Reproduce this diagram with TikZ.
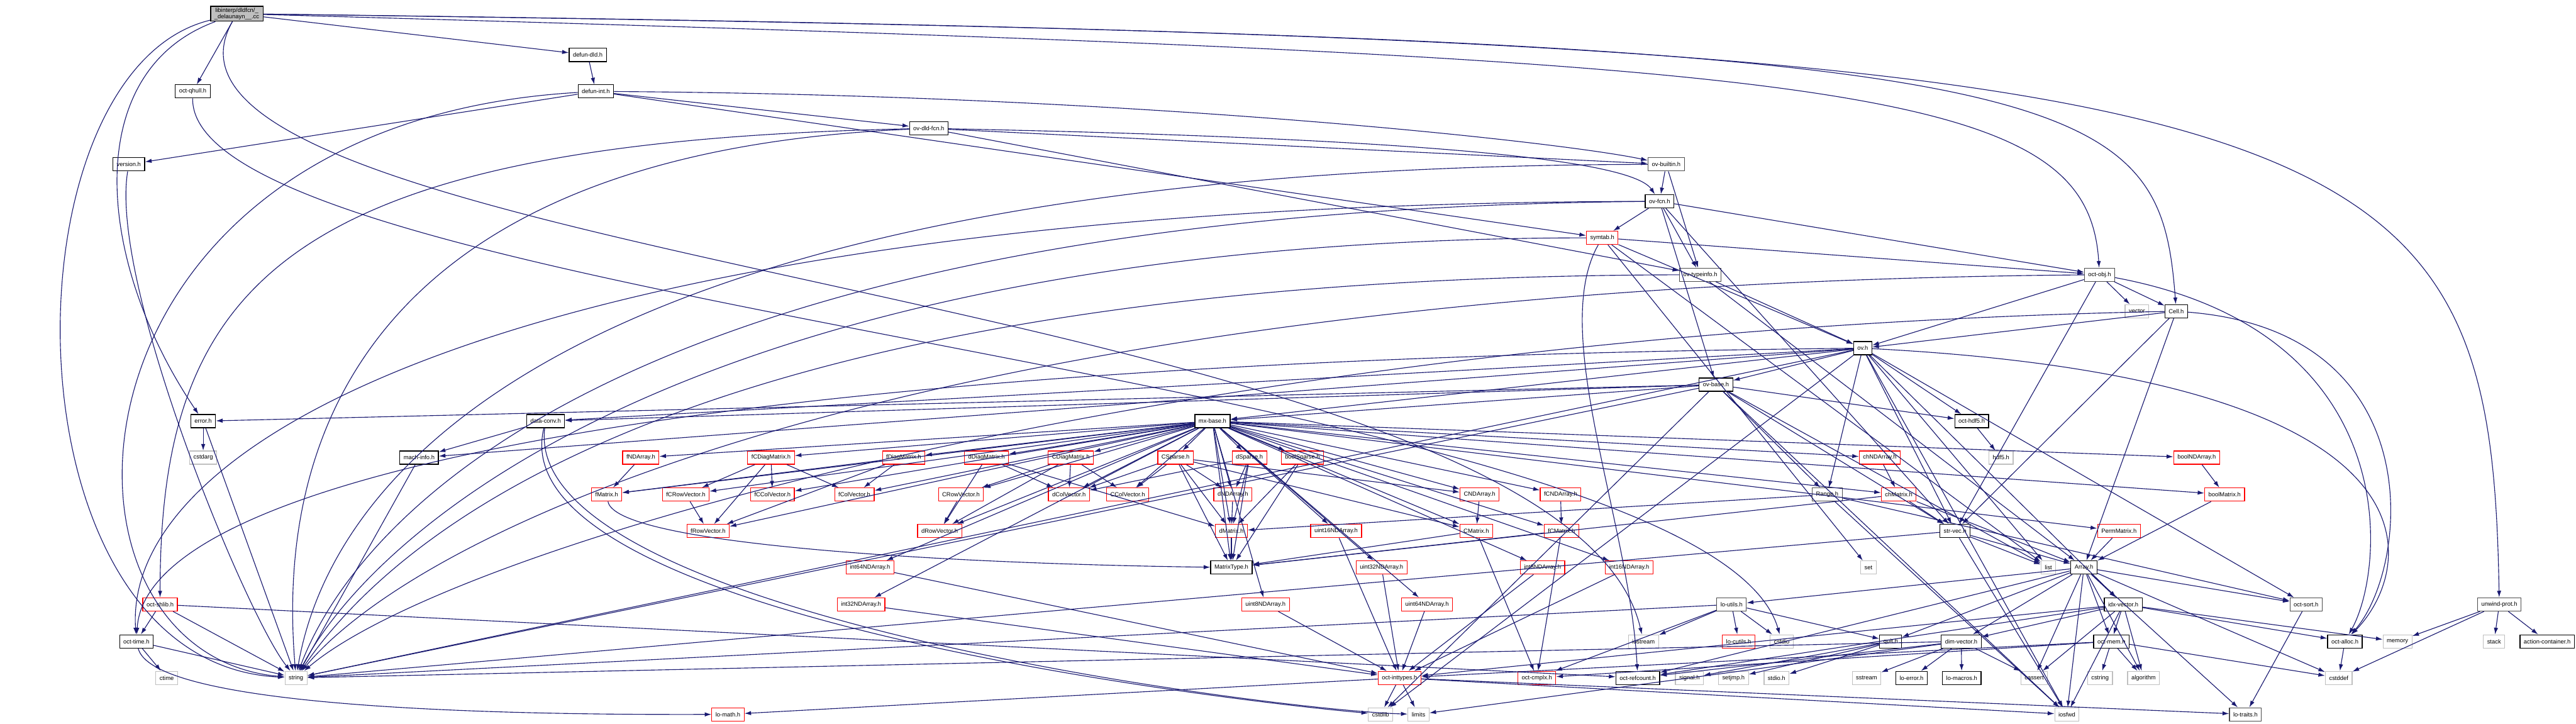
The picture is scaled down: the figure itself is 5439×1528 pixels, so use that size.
\documentclass[tikz,border=0pt]{standalone}
\usepackage{fontspec}
\setmainfont{Liberation Sans}
\usetikzlibrary{arrows.meta}
\definecolor{edgeblue}{HTML}{191970}
\definecolor{sysgray}{HTML}{BFBFBF}

\begin{document}
\begin{tikzpicture}[x=1pt, y=-1pt, font=\fontsize{12.5}{14}\selectfont,
    hdr/.style={draw=black, line width=1.6pt, fill=white, minimum height=28pt,
                inner xsep=8pt, inner ysep=2pt},
    trunc/.style={hdr, draw=red},
    sys/.style={hdr, draw=sysgray},
    dark/.style={hdr, draw=black!70},
    dep/.style={edgeblue, line width=1.5pt, -{Latex[length=14pt,width=9pt]}}]

  \useasboundingbox (0,0) rectangle (5439,1528);

  % Upper part: the file and the interpreter headers.
  \node[hdr, fill=sysgray, align=center, inner ysep=3pt] (root) at (500,29)
    {libinterp/dldfcn/\_\\\_delaunayn\_\_.cc};
  \node[hdr] (dld) at (1241,116) {defun-dld.h};
  \node[hdr] (qhull) at (407,193) {oct-qhull.h};
  \node[hdr] (dint) at (1258,193) {defun-int.h};
  \node[hdr] (dldfcn) at (1961,271) {ov-dld-fcn.h};
  \node[hdr] (version) at (272,347) {version.h};
  \node[dark] (builtin) at (3518,347) {ov-builtin.h};
  \node[hdr] (ovfcn) at (3504,425) {ov-fcn.h};
  \node[trunc] (symtab) at (3383,502) {symtab.h};
  \node[dark] (typeinfo) at (3590,580) {ov-typeinfo.h};
  \node[dark] (octobj) at (4433,580) {oct-obj.h};
  \node[sys] (vector) at (4512,657) {vector};
  \node[hdr] (cell) at (4595,657) {Cell.h};
  \node[hdr] (ovh) at (3933,735) {ov.h};
  \node[hdr] (ovbase) at (3623,812) {ov-base.h};
  \node[hdr] (error) at (429,889) {error.h};
  \node[hdr] (dataconv) at (1152,889) {data-conv.h};
  \node[hdr] (mxbase) at (2560,889) {mx-base.h};
  \node[hdr] (hdfive) at (4163,889) {oct-hdf5.h};

  % Matrix headers.
  \node[sys] (cstdarg) at (429,966) {cstdarg};
  \node[hdr] (machinfo) at (885,966) {mach-info.h};
  \node[trunc] (fNDArray) at (1353,966) {fNDArray.h};
  \node[trunc] (fCDiag) at (1628,966) {fCDiagMatrix.h};
  \node[trunc] (fDiag) at (1908,966) {fDiagMatrix.h};
  \node[trunc] (dDiag) at (2083,966) {dDiagMatrix.h};
  \node[trunc] (CDiag) at (2261,966) {CDiagMatrix.h};
  \node[trunc] (CSparse) at (2482,966) {CSparse.h};
  \node[trunc] (dSparse) at (2638,966) {dSparse.h};
  \node[trunc] (boolSparse) at (2750,966) {boolSparse.h};
  \node[trunc] (chNDArray) at (3969,966) {chNDArray.h};
  \node[sys] (hdf) at (4225,966) {hdf5.h};
  \node[trunc] (boolNDArray) at (4638,966) {boolNDArray.h};

  \node[trunc] (fMatrix) at (1281,1044) {fMatrix.h};
  \node[trunc] (fCRowVec) at (1448,1044) {fCRowVector.h};
  \node[trunc] (fCColVec) at (1631,1044) {fCColVector.h};
  \node[trunc] (fColVec) at (1804,1044) {fColVector.h};
  \node[trunc] (CRowVec) at (2029,1044) {CRowVector.h};
  \node[trunc] (dColVec) at (2257,1044) {dColVector.h};
  \node[trunc] (CColVec) at (2381,1044) {CColVector.h};
  \node[trunc] (dNDArray) at (2603,1044) {dNDArray.h};
  \node[trunc] (CNDArray) at (3124,1044) {CNDArray.h};
  \node[trunc] (fCNDArray) at (3295,1044) {fCNDArray.h};
  \node[dark] (range) at (3858,1044) {Range.h};
  \node[trunc] (chMatrix) at (4009,1044) {chMatrix.h};
  \node[trunc] (boolMatrix) at (4697,1044) {boolMatrix.h};

  \node[trunc] (fRowVec) at (1495,1121) {fRowVector.h};
  \node[trunc] (dRowVec) at (1984,1121) {dRowVector.h};
  \node[trunc] (dMatrix) at (2600,1121) {dMatrix.h};
  \node[trunc] (uint16) at (2821,1121) {uint16NDArray.h};
  \node[trunc] (CMatrix) at (3117,1121) {CMatrix.h};
  \node[trunc] (fCMatrix) at (3297,1121) {fCMatrix.h};
  \node[hdr] (strvec) at (4128,1121) {str-vec.h};
  \node[trunc] (perm) at (4474,1121) {PermMatrix.h};

  \node[trunc] (int64) at (1837,1198) {int64NDArray.h};
  \node[hdr] (mtype) at (2600,1198) {MatrixType.h};
  \node[trunc] (uint32) at (2917,1198) {uint32NDArray.h};
  \node[trunc] (int8) at (3257,1198) {int8NDArray.h};
  \node[trunc] (int16) at (3440,1198) {int16NDArray.h};
  \node[sys] (set) at (3945,1198) {set};
  \node[sys] (list) at (4325,1198) {list};
  \node[hdr] (array) at (4400,1198) {Array.h};

  % Lower part: liboctave utilities and system headers.
  \node[trunc] (shlib) at (338,1276) {oct-shlib.h};
  \node[trunc] (int32) at (1818,1276) {int32NDArray.h};
  \node[trunc] (uint8) at (2672,1276) {uint8NDArray.h};
  \node[trunc] (uint64) at (3013,1276) {uint64NDArray.h};
  \node[dark] (loutils) at (3656,1276) {lo-utils.h};
  \node[hdr] (idxvec) at (4483,1276) {idx-vector.h};
  \node[dark] (octsort) at (4869,1276) {oct-sort.h};
  \node[dark] (unwind) at (5277,1276) {unwind-prot.h};

  \node[hdr] (octtime) at (288,1354) {oct-time.h};
  \node[sys] (iostream) at (3470,1354) {iostream};
  \node[trunc] (locutils) at (3671,1354) {lo-cutils.h};
  \node[sys] (cstdio) at (3762,1354) {cstdio};
  \node[hdr] (quit) at (3992,1354) {quit.h};
  \node[hdr] (dimvec) at (4141,1354) {dim-vector.h};
  \node[hdr] (octmem) at (4458,1354) {oct-mem.h};
  \node[hdr] (octalloc) at (4951,1354) {oct-alloc.h};
  \node[sys] (memory) at (5062,1354) {memory};
  \node[sys] (stack) at (5266,1354) {stack};
  \node[hdr] (actcont) at (5378,1354) {action-container.h};

  \node[sys] (ctime) at (352,1431) {ctime};
  \node[sys] (string) at (625,1431) {string};
  \node[trunc] (inttypes) at (2955,1431) {oct-inttypes.h};
  \node[trunc] (cmplx) at (3245,1431) {oct-cmplx.h};
  \node[hdr] (refcount) at (3458,1431) {oct-refcount.h};
  \node[sys] (signal) at (3567,1431) {signal.h};
  \node[sys] (setjmp) at (3660,1431) {setjmp.h};
  \node[sys] (stdio) at (3751,1431) {stdio.h};
  \node[sys] (sstream) at (3941,1431) {sstream};
  \node[hdr] (loerror) at (4036,1431) {lo-error.h};
  \node[hdr] (lomacros) at (4142,1431) {lo-macros.h};
  \node[sys] (cassert) at (4295,1431) {cassert};
  \node[sys] (cstring) at (4434,1431) {cstring};
  \node[sys] (algorithm) at (4526,1431) {algorithm};
  \node[sys] (cstddef) at (4938,1431) {cstddef};

  \node[trunc] (lomath) at (1537,1508) {lo-math.h};
  \node[sys] (cstdlib) at (2915,1508) {cstdlib};
  \node[sys] (limits) at (2995,1508) {limits};
  \node[sys] (iosfwd) at (4364,1508) {iosfwd};
  \node[dark] (lotraits) at (4741,1508) {lo-traits.h};

  % Includes of the file itself.
  \path (root) edge[dep] (qhull) edge[dep] (dld);
  \draw[dep] (root) .. controls (4400,80) and (4557,160) .. (cell);
  \draw[dep] (root) .. controls (3900,125) and (4407,170) .. (octobj);
  \draw[dep] (root) .. controls (5000,85) and (5258,200) .. (unwind);
  \draw[dep] (root) .. controls (170,150) and (200,550) .. (error);
  \draw[dep] (root) .. controls (0,150) and (0,1400) .. (string);
  \draw[dep] (root) .. controls (200,560) and (3300,620) .. (iostream);
  \draw[dep] (qhull) .. controls (400,650) and (3600,800) .. (cstdio);

  % Interpreter headers.
  \path (dld) edge[dep] (dint);
  \path (dint) edge[dep] (version) edge[dep] (dldfcn) edge[dep] (symtab);
  \draw[dep] (dint) .. controls (2400,200) and (3300,300) .. (builtin);
  \draw[dep] (dint) .. controls (100,260) and (56,1380) .. (string);
  \draw[dep] (version) .. controls (230,600) and (520,1300) .. (string);
  \path (dldfcn) edge[dep] (builtin) edge[dep] (typeinfo);
  \draw[dep] (dldfcn) .. controls (600,300) and (338,600) .. (shlib);
  \draw[dep] (dldfcn) .. controls (620,330) and (598,1100) .. (string);
  \draw[dep] (dldfcn) .. controls (2900,290) and (3440,330) .. (ovfcn);
  \path (builtin) edge[dep] (ovfcn) edge[dep] (typeinfo);
  \draw[dep] (builtin) .. controls (1200,350) and (700,1000) .. (string);
  \path (ovfcn) edge[dep] (symtab) edge[dep] (typeinfo) edge[dep] (octobj)
    edge[dep] (strvec) edge[dep] (ovbase);
  \draw[dep] (ovfcn) .. controls (1200,430) and (259,900) .. (octtime);
  \draw[dep] (ovfcn) .. controls (1300,445) and (750,1100) .. (string);
  \path (symtab) edge[dep] (ovh) edge[dep] (octobj) edge[dep] (list) edge[dep] (set);
  \draw[dep] (symtab) .. controls (1500,505) and (801,1100) .. (string);
  \draw[dep] (symtab) .. controls (3270,700) and (3440,1100) .. (refcount);
  \path (typeinfo) edge[dep] (ovh) edge[dep] (array);
  \draw[dep] (typeinfo) .. controls (1500,585) and (853,1100) .. (string);
  \path (octobj) edge[dep] (vector) edge[dep] (cell) edge[dep] (ovh) edge[dep] (strvec);
  \draw[dep] (octobj) .. controls (5080,700) and (5037,1200) .. (octalloc);
  \draw[dep] (octobj) .. controls (2000,600) and (902,1100) .. (string);
  \path (cell) edge[dep] (ovh) edge[dep] (array) edge[dep] (strvec);
  \draw[dep] (cell) .. controls (5139,700) and (5086,1200) .. (octalloc);
  \draw[dep] (cell) .. controls (2500,700) and (954,1150) .. (string);
  \path (ovh) edge[dep] (ovbase) edge[dep] (range) edge[dep] (dataconv) edge[dep] (machinfo)
    edge[dep] (idxvec) edge[dep] (mxbase) edge[dep] (hdfive) edge[dep] (octsort)
    edge[dep] (strvec) edge[dep] (string) edge[dep] (iosfwd) edge[dep] (cstdlib) edge[dep] (list);
  \draw[dep] (ovh) .. controls (5188,800) and (5100,1200) .. (octalloc);
  \draw[dep] (ovh) .. controls (1500,760) and (309,1000) .. (octtime);
  \path (ovbase) edge[dep] (range) edge[dep] (dataconv) edge[dep] (mxbase) edge[dep] (strvec)
    edge[dep] (error) edge[dep] (hdfive) edge[dep] (string) edge[dep] (iosfwd)
    edge[dep] (list) edge[dep] (cstdlib);
  \path (error) edge[dep] (cstdarg) edge[dep] (string);
  \path (dataconv) edge[dep] (machinfo);
  \draw[dep] (dataconv) .. controls (1100,1300) and (2700,1500) .. (limits);
  \draw[dep] (dataconv) .. controls (1050,1300) and (2600,1480) .. (cstdlib);
  \path (machinfo) edge[dep] (string);
  \path (hdfive) edge[dep] (hdf);

  % mx-base.h pulls in every matrix type.
  \path (mxbase) edge[dep] (fNDArray) edge[dep] (fCDiag) edge[dep] (fDiag) edge[dep] (dDiag)
    edge[dep] (CDiag) edge[dep] (CSparse) edge[dep] (dSparse) edge[dep] (boolSparse)
    edge[dep] (chNDArray) edge[dep] (boolNDArray) edge[dep] (fMatrix) edge[dep] (fCRowVec)
    edge[dep] (fCColVec) edge[dep] (fColVec) edge[dep] (CRowVec) edge[dep] (dColVec)
    edge[dep] (CColVec) edge[dep] (dNDArray) edge[dep] (CNDArray) edge[dep] (fCNDArray)
    edge[dep] (chMatrix) edge[dep] (boolMatrix) edge[dep] (fRowVec) edge[dep] (dRowVec)
    edge[dep] (dMatrix) edge[dep] (uint16) edge[dep] (CMatrix) edge[dep] (fCMatrix)
    edge[dep] (perm) edge[dep] (int64) edge[dep] (mtype) edge[dep] (uint32) edge[dep] (int8)
    edge[dep] (int16) edge[dep] (int32) edge[dep] (uint8) edge[dep] (uint64);

  \path (fNDArray) edge[dep] (fMatrix);
  \path (fCDiag) edge[dep] (fCRowVec) edge[dep] (fCColVec) edge[dep] (fRowVec) edge[dep] (fColVec);
  \path (fDiag) edge[dep] (fMatrix) edge[dep] (fRowVec) edge[dep] (fColVec);
  \path (dDiag) edge[dep] (dMatrix) edge[dep] (dRowVec) edge[dep] (dColVec);
  \path (CDiag) edge[dep] (dRowVec) edge[dep] (CRowVec) edge[dep] (dColVec) edge[dep] (CColVec);
  \path (CSparse) edge[dep] (dMatrix) edge[dep] (dNDArray) edge[dep] (CNDArray) edge[dep] (CMatrix)
    edge[dep] (CColVec) edge[dep] (dColVec) edge[dep] (mtype);
  \path (dSparse) edge[dep] (dMatrix) edge[dep] (dNDArray) edge[dep] (dColVec) edge[dep] (mtype);
  \path (boolSparse) edge[dep] (mtype) edge[dep] (dMatrix);
  \path (chNDArray) edge[dep] (chMatrix);
  \draw[dep] (fMatrix) .. controls (1300,1150) and (2000,1190) .. (mtype);
  \path (fCRowVec) edge[dep] (fRowVec);
  \path (CRowVec) edge[dep] (dRowVec);
  \path (dNDArray) edge[dep] (dMatrix);
  \path (dMatrix) edge[dep] (mtype);
  \path (CNDArray) edge[dep] (CMatrix);
  \path (fCNDArray) edge[dep] (fCMatrix);
  \path (CMatrix) edge[dep] (cmplx) edge[dep] (mtype);
  \path (fCMatrix) edge[dep] (cmplx) edge[dep] (mtype);
  \path (range) edge[dep] (dMatrix) edge[dep] (octsort) edge[dep] (iosfwd);
  \path (chMatrix) edge[dep] (mtype) edge[dep] (strvec) edge[dep] (array);
  \path (boolNDArray) edge[dep] (boolMatrix);
  \path (boolMatrix) edge[dep] (array);
  \path (perm) edge[dep] (array);
  \path (int8) edge[dep] (inttypes);
  \path (int16) edge[dep] (inttypes);
  \path (int32) edge[dep] (inttypes);
  \path (int64) edge[dep] (inttypes);
  \path (uint8) edge[dep] (inttypes);
  \path (uint16) edge[dep] (inttypes);
  \path (uint32) edge[dep] (inttypes);
  \path (uint64) edge[dep] (inttypes);

  % liboctave utilities.
  \path (strvec) edge[dep] (array) edge[dep] (list) edge[dep] (iosfwd) edge[dep] (string);
  \path (array) edge[dep] (idxvec) edge[dep] (dimvec) edge[dep] (cassert) edge[dep] (cstddef)
    edge[dep] (algorithm) edge[dep] (iosfwd) edge[dep] (lotraits) edge[dep] (octsort)
    edge[dep] (octmem) edge[dep] (quit) edge[dep] (loutils) edge[dep] (refcount);
  \path (idxvec) edge[dep] (dimvec) edge[dep] (octmem) edge[dep] (algorithm) edge[dep] (iosfwd)
    edge[dep] (cassert) edge[dep] (octalloc) edge[dep] (memory) edge[dep] (inttypes)
    edge[dep] (refcount);
  \path (dimvec) edge[dep] (lomacros) edge[dep] (cassert) edge[dep] (loerror) edge[dep] (sstream)
    edge[dep] (refcount) edge[dep] (limits) edge[dep] (string);
  \path (octmem) edge[dep] (cstring) edge[dep] (algorithm) edge[dep] (cstddef) edge[dep] (cmplx)
    edge[dep] (inttypes);
  \path (octalloc) edge[dep] (cstddef);
  \path (octsort) edge[dep] (lotraits);
  \path (unwind) edge[dep] (memory) edge[dep] (stack) edge[dep] (actcont) edge[dep] (cstddef);
  \path (loutils) edge[dep] (iostream) edge[dep] (locutils) edge[dep] (cstdio) edge[dep] (quit)
    edge[dep] (cmplx) edge[dep] (string);
  \path (quit) edge[dep] (signal) edge[dep] (setjmp) edge[dep] (stdio);
  \path (shlib) edge[dep] (octtime) edge[dep] (string) edge[dep] (refcount);
  \path (octtime) edge[dep] (ctime) edge[dep] (string);
  \draw[dep] (octtime) .. controls (320,1480) and (900,1510) .. (lomath);
  \path (inttypes) edge[dep] (cstdlib) edge[dep] (limits) edge[dep] (lomath) edge[dep] (iosfwd)
    edge[dep] (lotraits);
\end{tikzpicture}
\end{document}
